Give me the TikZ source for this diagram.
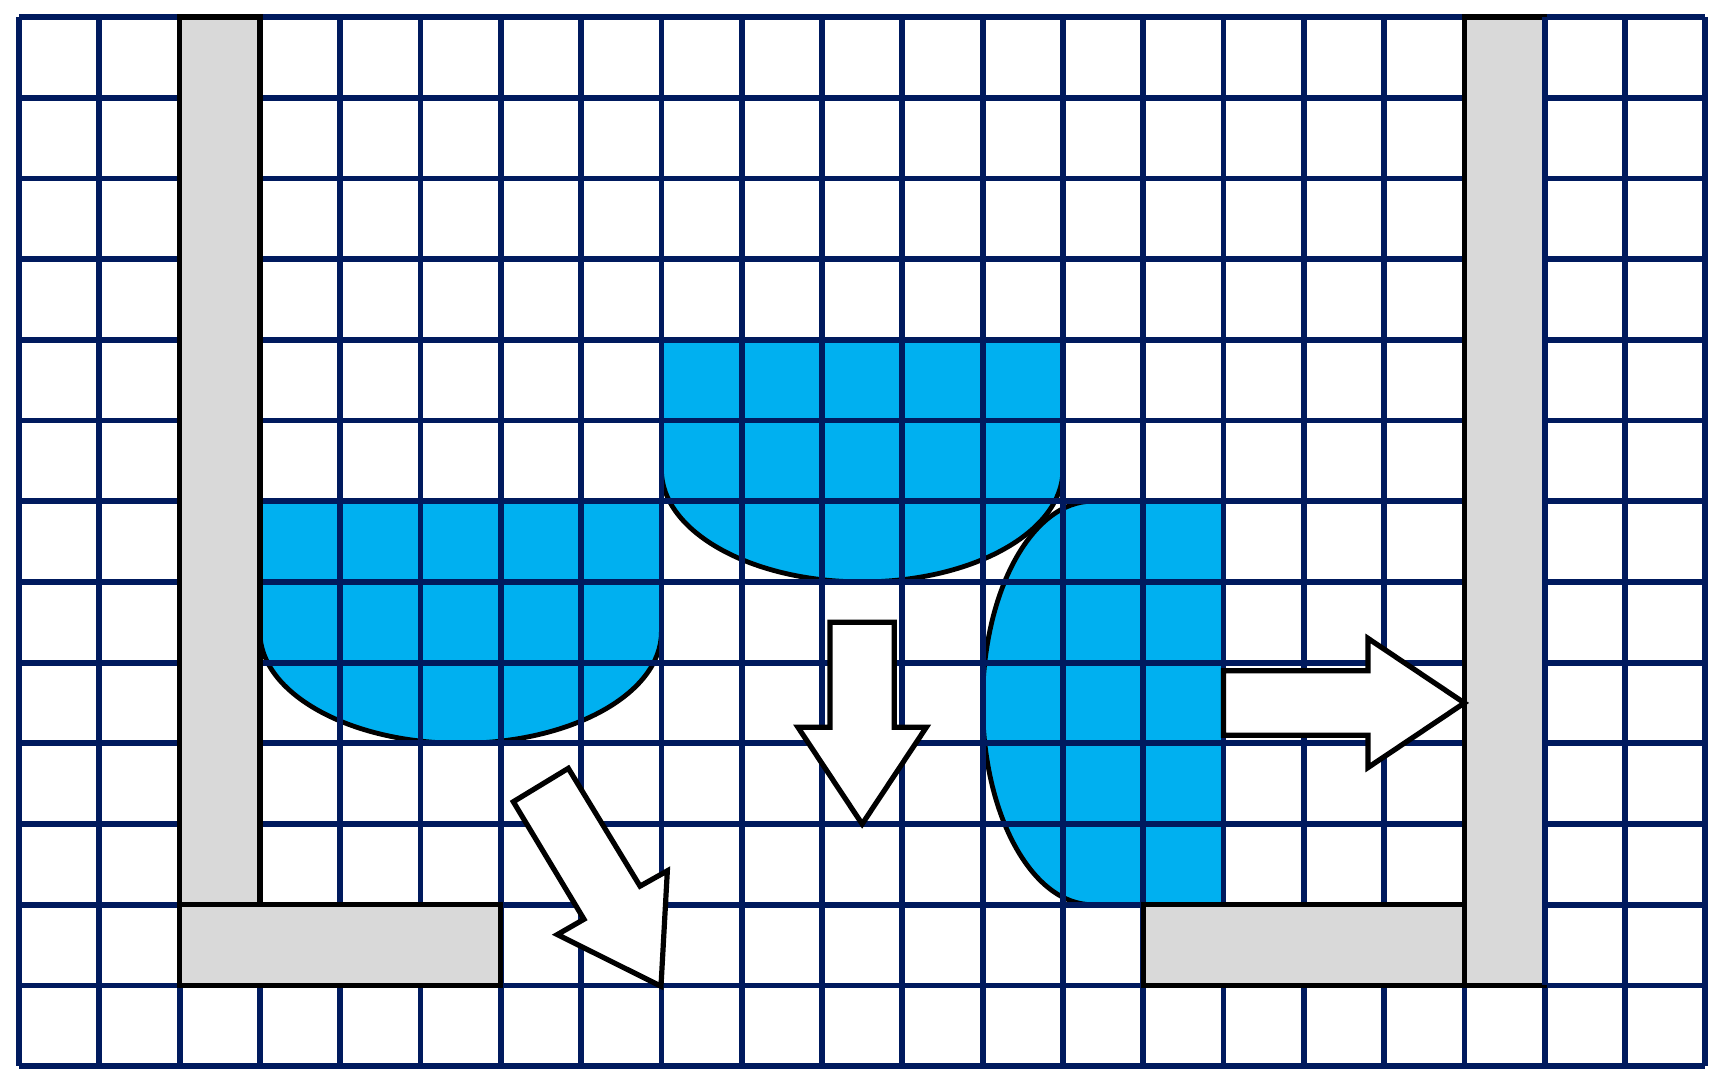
\documentclass[tikz,border=0pt]{standalone}
\definecolor{gridnavy}{RGB}{0,26,94}
\definecolor{waterblue}{RGB}{0,176,240}
\definecolor{wallgray}{RGB}{217,217,217}
\tikzset{
  gridline/.style={draw=gridnavy, line width=2.9pt},
  blob/.style={fill=waterblue, draw=black, line width=2.4pt},
  wall/.style={fill=wallgray, draw=black, line width=2.6pt},
  flowarrow/.style={fill=white, draw=black, line width=2.6pt, line join=miter},
}
\begin{document}
\begin{tikzpicture}[x=40.15pt, y=-40.35pt]
\useasboundingbox (-0.2366,-0.2107) rectangle (21.3076,13.2838);
\fill[white] (-0.2366,-0.2107) rectangle (21.3076,13.2838);
% water blobs (under the grid)
\path[blob] (3,6) -- (8,6) -- (8,7.62) arc[start angle=0, end angle=180, x radius=2.5, y radius=1.38] -- cycle;
\path[blob] (8,4) -- (13,4) -- (13,5.61) arc[start angle=0, end angle=180, x radius=2.5, y radius=1.39] -- cycle;
\path[blob] (15,6) -- (15,11) -- (13.37,11) arc[start angle=90, end angle=270, x radius=1.37, y radius=2.5] -- cycle;
% grid
\foreach \i in {0,...,21} \draw[gridline] (\i,0) -- (\i,13);
\foreach \j in {0,...,13} \draw[gridline] (0,\j) -- (21,\j);
% walls
\path[wall] (2,0) rectangle (3,11);
\path[wall] (2,11) rectangle (6,12);
\path[wall] (14,11) rectangle (18,12);
\path[wall] (18,0) rectangle (19,12);
\draw[gridline] (19,0) -- (19,12);
% arrows
\path[flowarrow] (10.1,7.5) -- (10.9,7.5) -- (10.9,8.8) -- (11.3,8.8) -- (10.5,10) -- (9.7,8.8) -- (10.1,8.8) -- cycle;
\path[flowarrow] (15,8.1) -- (16.8,8.1) -- (16.8,7.7) -- (18,8.5) -- (16.8,9.3) -- (16.8,8.9) -- (15,8.9) -- cycle;
\path[flowarrow] (6.156,9.724) -- (6.841,9.31) -- (7.734,10.77) -- (8.074,10.58) -- (7.995,12.01) -- (6.704,11.37) -- (7.036,11.18) -- cycle;
\end{tikzpicture}
\end{document}
